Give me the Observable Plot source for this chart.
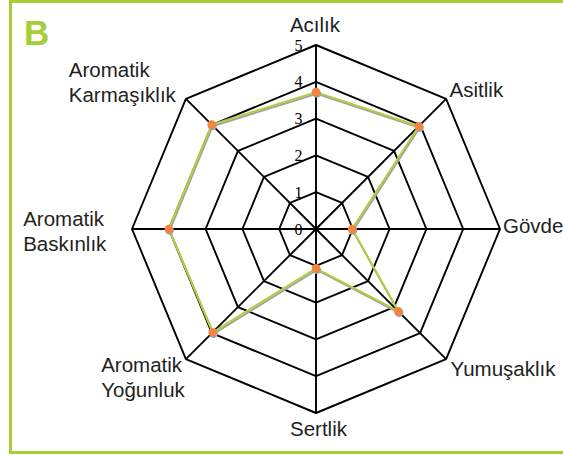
<!DOCTYPE html>
<html>
<head>
<meta charset="utf-8">
<script src="https://cdn.jsdelivr.net/npm/d3@7"></script>
<script src="https://cdn.jsdelivr.net/npm/@observablehq/plot@0.6"></script>
<style>
html, body { margin: 0; padding: 0; background: #fff; overflow: hidden; }
#wrap { position: relative; width: 563px; height: 455px; overflow: hidden; }
#frame { position: absolute; left: 8.5px; top: 0; width: 620px; height: 454px; border: 3px solid #a6ce39; box-sizing: border-box; }
#title { position: absolute; left: 24px; top: 14.8px; font: bold 35px/35px "Liberation Sans", Arial, sans-serif; color: #a6ce39; }
#chart { position: absolute; left: 0; top: 0; }
</style>
</head>
<body>
<div id="wrap">
  <div id="frame"></div>
  <div id="chart"></div>
  <div id="title">B</div>
</div>
<script>
// ---- data ----
const categories = ["Acılık", "Asitlik", "Gövde", "Yumuşaklık", "Sertlik", "Aromatik\nYoğunluk", "Aromatik\nBaskınlık", "Aromatik\nKarmaşıklık"];
const values = [3.72, 3.95, 0.98, 3.16, 1.07, 3.97, 4.0, 4.01];
const levels = [0, 1, 2, 3, 4, 5];
const tickLabels = ["0", "1", "2", "3", "4", "5"];

// ---- label layout (anchor, offsets in px relative to outer vertex) ----
const labelAnchor = ["middle", "start", "start", "start", "middle", "start", "start", "start"];
const labelDx = [-1, 3.5, 3, 4.5, 2.5, -84.7, -108.8, -117.1];
const labelDy = [-13, -1.4, 3.5, 16.4, 22.5, 38.1, 21.5, 3.3];

const maxLevel = d3.max(levels);
const n = categories.length;
const angle = i => (i * 2 * Math.PI) / n;
const px = (v, i) => v * Math.sin(angle(i));
const py = (v, i) => v * Math.cos(angle(i));

// grid rings
const rings = [];
for (const l of levels.filter(l => l > 0)) {
  for (let i = 0; i <= n; i++) rings.push({level: l, x: px(l, i % n), y: py(l, i % n)});
}
// spokes
const spokes = categories.map((c, i) => ({x2: px(maxLevel, i), y2: py(maxLevel, i)}));
// data polygon
const poly = [];
for (let i = 0; i <= n; i++) poly.push({x: px(values[i % n], i % n), y: py(values[i % n], i % n)});
const pts = values.map((v, i) => ({x: px(v, i), y: py(v, i)}));

const unit = 36.8, cx = 315.5, cy = 228.5, W = 563, H = 455;
const font = "'Liberation Sans', Arial, Helvetica, sans-serif";

const labelMarks = categories.map((c, i) =>
  Plot.text([{x: px(maxLevel, i), y: py(maxLevel, i), t: c}], {
    x: "x", y: "y", text: "t",
    textAnchor: labelAnchor[i], lineAnchor: "bottom",
    dx: labelDx[i], dy: labelDy[i],
    fontSize: 20.5, lineHeight: 25 / 20.5, fontFamily: font, fill: "#231f20"
  })
);

const chart = Plot.plot({
  width: W, height: H, margin: 0,
  x: {domain: [-cx / unit, (W - cx) / unit], range: [0, W], axis: null},
  y: {domain: [-(H - cy) / unit, cy / unit], range: [H, 0], axis: null},
  style: {background: "transparent", overflow: "visible"},
  marks: [
    Plot.line(rings, {x: "x", y: "y", z: "level", stroke: "#000", strokeWidth: 1.9, strokeLinejoin: "miter"}),
    Plot.link(spokes, {x1: 0, y1: 0, x2: "x2", y2: "y2", stroke: "#000", strokeWidth: 1.9}),
    Plot.text(levels, {x: 0, y: d => d, text: (d, i) => tickLabels[i], textAnchor: "end", lineAnchor: "middle", dx: -13.5, dy: 0.5, fontSize: 16, fontFamily: "'Liberation Serif', 'Times New Roman', serif", fill: "#000"}),
    Plot.line(poly, {x: "x", y: "y", stroke: "#a3a3a3", strokeWidth: 2, dx: 0.8, dy: 1.6}),
    Plot.line(poly, {x: "x", y: "y", stroke: "#aed03e", strokeWidth: 2}),
    Plot.dot(pts, {x: "x", y: "y", r: 4.3, fill: "#a3a3a3", dx: 0.8, dy: 1.4}),
    Plot.dot(pts, {x: "x", y: "y", r: 4.3, fill: "#f4843f"}),
    ...labelMarks
  ]
});
document.getElementById("chart").appendChild(chart);
</script>
</body>
</html>
